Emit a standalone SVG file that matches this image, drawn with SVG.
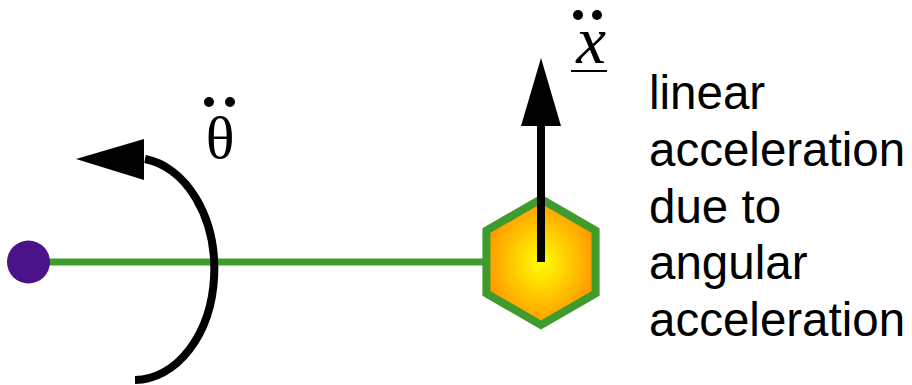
<svg xmlns="http://www.w3.org/2000/svg" width="912" height="385" viewBox="0 0 912 385">
  <style>
    .lbl { font-family: "Liberation Sans", Arial, sans-serif; font-size: 47.5px; fill: #000; }
    .math { font-family: "Liberation Serif", "Times New Roman", serif; fill: #000; }
    .rod { stroke: #3f9b2c; stroke-width: 7; fill: none; }
    .arrowline { stroke: #000; stroke-width: 8; fill: none; }
  </style>
  <defs>
    <radialGradient id="glow" cx="0.5" cy="0.5" r="0.5">
      <stop offset="0" stop-color="#ffff00"/>
      <stop offset="1" stop-color="#ff9a00"/>
    </radialGradient>
  </defs>
  <rect width="912" height="385" fill="#fff"/>
  <g id="connectors">
    <line class="rod" x1="45" y1="262" x2="490" y2="262"/>
  </g>
  <g id="pivot">
    <circle cx="28.5" cy="262" r="21.5" fill="#4a138a"/>
  </g>
  <g id="mass">
    <polygon points="541,199 595.6,230.5 595.6,293.5 541,325 486.4,293.5 486.4,230.5" fill="url(#glow)" stroke="#3f9b2c" stroke-width="8"/>
  </g>
  <g id="linear-arrow">
    <line class="arrowline" x1="541" y1="262" x2="541" y2="120"/>
    <polygon points="521,126 561,126 541,58" fill="#000"/>
  </g>
  <g id="x-label">
    <text class="math" x="591" y="63" font-size="67" font-style="italic" text-anchor="middle">x</text>
    <circle cx="578" cy="15" r="5" fill="#000"/>
    <circle cx="597" cy="15" r="5" fill="#000"/>
    <line x1="571" y1="71" x2="607" y2="71" stroke="#000" stroke-width="2.2"/>
  </g>
  <g id="angular-arrow">
    <path class="arrowline" d="M 135 380 A 80 111 0 0 0 145 159"/>
    <polygon points="76,159 144,139 144,180" fill="#000"/>
  </g>
  <g id="theta-label">
    <text class="math" x="220" y="158" font-size="60" text-anchor="middle">θ</text>
    <circle cx="209" cy="102" r="5" fill="#000"/>
    <circle cx="230" cy="102" r="5" fill="#000"/>
  </g>
  <g id="caption">
    <text class="lbl" x="649" y="109">linear</text>
    <text class="lbl" x="649" y="165.5">acceleration</text>
    <text class="lbl" x="649" y="222.5">due to</text>
    <text class="lbl" x="649" y="279">angular</text>
    <text class="lbl" x="649" y="336">acceleration</text>
  </g>
</svg>
